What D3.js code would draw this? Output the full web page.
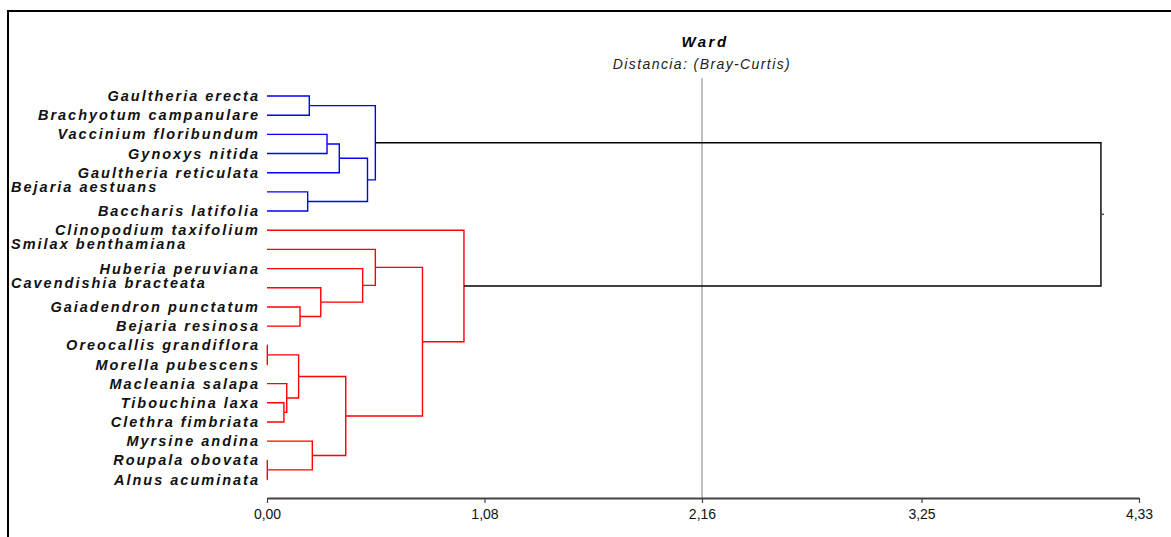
<!DOCTYPE html>
<html><head><meta charset="utf-8">
<script src="https://cdn.jsdelivr.net/npm/d3@7/dist/d3.min.js"></script>
<style>
html,body{margin:0;padding:0;background:#fff;}
svg{display:block;}
</style></head>
<body>
<svg id="chart" width="1171" height="537"></svg>
<script>
// ---- data ----
const title = "Ward";
const subtitle = "Distancia: (Bray-Curtis)";
const leafNames = [
  "Gaultheria erecta","Brachyotum campanulare","Vaccinium floribundum","Gynoxys nitida",
  "Gaultheria reticulata","Bejaria aestuans","Baccharis latifolia","Clinopodium taxifolium",
  "Smilax benthamiana","Huberia peruviana","Cavendishia bracteata","Gaiadendron punctatum",
  "Bejaria resinosa","Oreocallis grandiflora","Morella pubescens","Macleania salapa",
  "Tibouchina laxa","Clethra fimbriata","Myrsine andina","Roupala obovata","Alnus acuminata"
];
// labels drawn shifted to the left margin in the original
const leftLabels = ["Bejaria aestuans","Smilax benthamiana","Cavendishia bracteata"];
// linkage (node ids: 0-20 leaves, 21+ merges in order)
const mergeLeft   = [13,19,16,15,21,11,5,0,18,10,2,31,25,9,32,28,8,37,7,36];
const mergeRight  = [14,20,17,23,24,12,6,1,22,26,3,4,29,30,27,35,34,33,38,39];
const mergeHeight = [0.0015,0.0015,0.084,0.098,0.157,0.164,0.202,0.210,0.225,0.267,0.298,0.359,0.391,0.475,0.499,0.538,0.538,0.772,0.978,4.141];
const clusterRoots = [36, 39];
const clusterColors = ["#0000ff", "#ff0000"];
const tickLabels = ["0,00","1,08","2,16","3,25","4,33"];
const refLineValue = 2.16;

// ---- drawing ----
const svg = d3.select("#chart");
const x = d3.scaleLinear().domain([0, 4.33]).range([267, 1139]);
const y = d3.scalePoint().domain(leafNames).range([96, 479.5]);
const axisY = 498;
const FONT = "Liberation Sans, Arial, sans-serif";

// frame
svg.append("path").attr("d", "M8,537V11H1171").attr("fill","none").attr("stroke","#000").attr("stroke-width",2);

// nodes
const nLeaves = leafNames.length;
const nodes = leafNames.map((n,i)=>({id:i, h:0, y:y(n)}));
mergeLeft.forEach((a,i)=>{
  const A = nodes[a], B = nodes[mergeRight[i]];
  nodes.push({id:nLeaves+i, h:mergeHeight[i], y:(A.y+B.y)/2, left:A, right:B});
});
function isDesc(node, id){
  if (node.id===id) return true;
  if (!node.left) return false;
  return isDesc(node.left,id)||isDesc(node.right,id);
}
function colorOf(id){
  for (let k=0;k<clusterRoots.length;k++){
    if (isDesc(nodes[clusterRoots[k]], id)) return clusterColors[k];
  }
  return "#000";
}

// reference line
svg.append("line").attr("x1",x(refLineValue)).attr("x2",x(refLineValue))
  .attr("y1",78).attr("y2",axisY).attr("stroke","#808080").attr("stroke-width",1);

const g = svg.append("g").attr("fill","none");
nodes.filter(n=>n.left).forEach(n=>{
  const c = colorOf(n.id);
  [n.left, n.right].forEach(ch=>{
    g.append("path")
      .attr("d", `M${x(ch.h)},${ch.y}H${x(n.h)}V${n.y}`)
      .attr("stroke", c)
      .attr("stroke-width", 1.4);
  });
});
// root stub
const root = nodes[nodes.length-1];
g.append("line").attr("x1",x(root.h)).attr("x2",x(root.h)+3).attr("y1",root.y).attr("y2",root.y)
  .attr("stroke","#444").attr("stroke-width",1.4);

// leaf labels
const ls = 2;
svg.append("g").selectAll("text").data(leafNames).join("text")
  .attr("x", d=> leftLabels.includes(d) ? 11 : 258 + ls)
  .attr("y", d=> leftLabels.includes(d) ? y(d)-5 : y(d))
  .attr("dy","0.35em")
  .attr("text-anchor", d=> leftLabels.includes(d) ? "start" : "end")
  .attr("font-family",FONT)
  .attr("font-size",14.5).attr("font-weight","bold").attr("font-style","italic")
  .attr("letter-spacing", ls)
  .attr("fill","#111")
  .text(d=>d);

// axis
const tickVals = tickLabels.map(t=>+t.replace(",", "."));
const axis = d3.axisBottom(x).tickValues(tickVals).tickSize(5).tickSizeOuter(0)
  .tickFormat((d,i)=>tickLabels[i]);
const ax = svg.append("g").attr("transform",`translate(0,${axisY})`).call(axis);
ax.select(".domain").attr("stroke","#444").attr("stroke-width",2);
ax.selectAll(".tick line").attr("stroke","#444").attr("stroke-width",1.2);
ax.selectAll(".tick text").attr("font-family",FONT)
  .attr("font-size",14).attr("fill","#111").attr("dy","0.95em");

// titles
svg.append("text").attr("x",705).attr("y",42).attr("dy","0.35em").attr("text-anchor","middle")
  .attr("font-family",FONT).attr("font-size",15).attr("letter-spacing",2.5)
  .attr("font-weight","bold").attr("font-style","italic").attr("fill","#000").text(title);
svg.append("text").attr("x",702).attr("y",64).attr("dy","0.35em").attr("text-anchor","middle")
  .attr("font-family",FONT).attr("font-size",14).attr("letter-spacing",1.4)
  .attr("font-style","italic").attr("fill","#222").text(subtitle);
</script>
</body></html>
